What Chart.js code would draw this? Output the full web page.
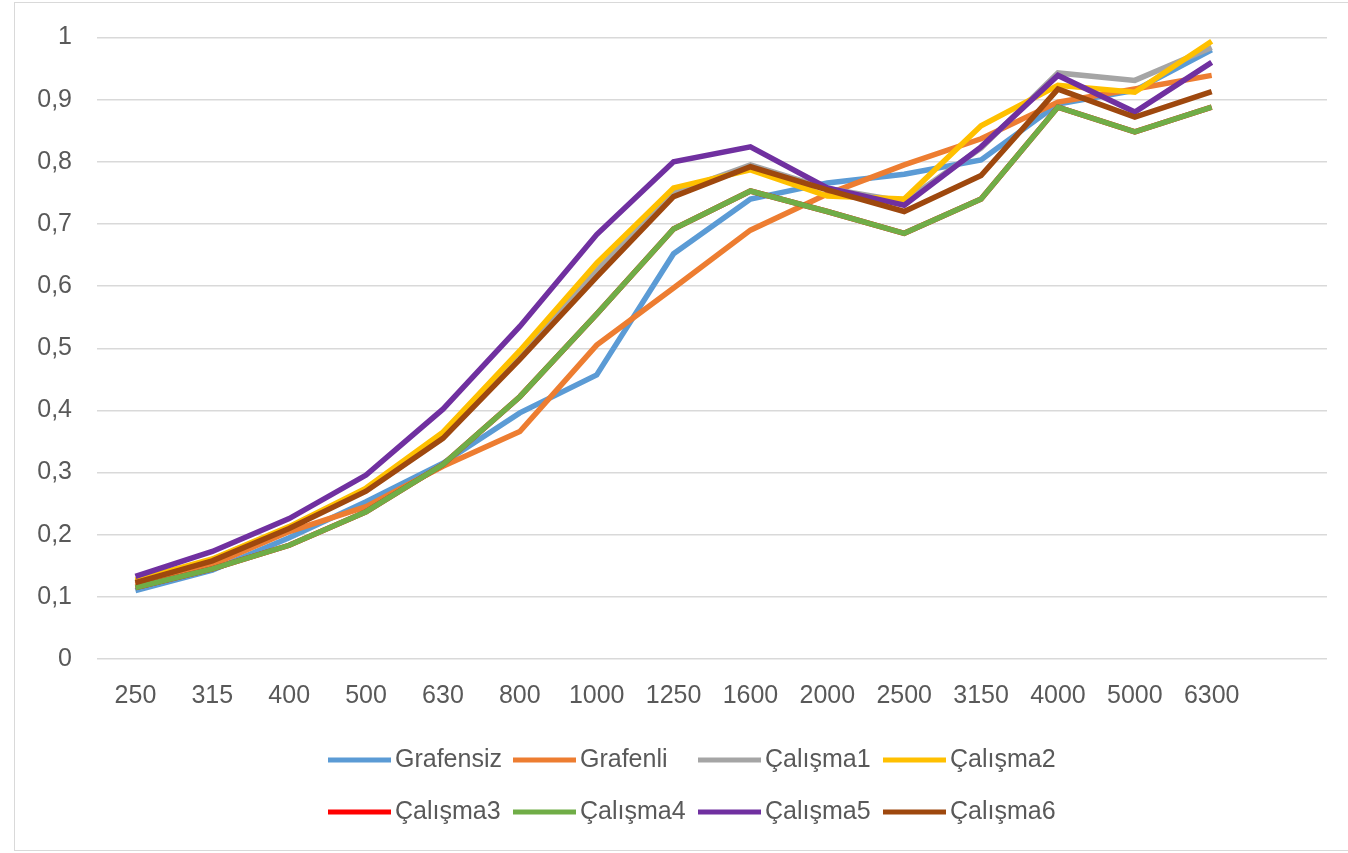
<!DOCTYPE html>
<html>
<head>
<meta charset="utf-8">
<script src="https://cdn.jsdelivr.net/npm/chart.js@4.4.0/dist/chart.umd.min.js"></script>
<style>
html, body { margin:0; padding:0; background:#fff; }
#wrap { position:relative; width:1348px; height:853px; overflow:hidden; }
#frame { position:absolute; left:14px; top:2px; width:1340px; height:847px; border:1px solid #d9d9d9; }
canvas { position:absolute; left:0; top:0; }
</style>
</head>
<body>
<div id="wrap">
<div id="frame"></div>
<canvas id="chart" width="1348" height="853"></canvas>
</div>
<script>
// frequency bands (last slot is empty, Excel left a blank row)
const frequencies = ['250','315','400','500','630','800','1000','1250','1600','2000','2500','3150','4000','5000','6300',''];

const grafensiz = [0.110,0.143,0.195,0.253,0.315,0.396,0.457,0.652,0.740,0.766,0.780,0.803,0.893,0.915,0.980];
const grafenli  = [0.120,0.152,0.205,0.245,0.310,0.366,0.505,0.597,0.690,0.748,0.795,0.837,0.896,0.917,0.939];
const calisma1  = [0.125,0.160,0.212,0.272,0.360,0.488,0.625,0.750,0.795,0.757,0.736,0.822,0.943,0.931,0.984];
const calisma2  = [0.127,0.161,0.213,0.275,0.365,0.496,0.637,0.758,0.787,0.745,0.740,0.858,0.923,0.912,0.994];
const calisma3  = [0.115,0.145,0.183,0.237,0.313,0.422,0.555,0.692,0.753,0.720,0.685,0.740,0.888,0.848,0.888];
const calisma4  = [0.115,0.145,0.183,0.237,0.313,0.422,0.555,0.692,0.753,0.720,0.685,0.740,0.888,0.848,0.888];
const calisma5  = [0.133,0.173,0.226,0.296,0.402,0.535,0.683,0.800,0.824,0.758,0.730,0.824,0.939,0.880,0.960];
const calisma6  = [0.123,0.158,0.210,0.270,0.355,0.482,0.615,0.744,0.792,0.755,0.720,0.778,0.917,0.872,0.913];

const yTicks = [0,0.1,0.2,0.3,0.4,0.5,0.6,0.7,0.8,0.9,1];

const seriesNames = ['Grafensiz','Grafenli','Çalışma1','Çalışma2','Çalışma3','Çalışma4','Çalışma5','Çalışma6'];
const seriesData = [grafensiz,grafenli,calisma1,calisma2,calisma3,calisma4,calisma5,calisma6];
const seriesColors = ['#5B9BD5','#ED7D31','#A5A5A5','#FFC000','#FF0000','#70AD47','#7030A0','#9E480E'];

const FONT = "'Liberation Sans', sans-serif";
const TEXT = '#595959';

const datasets = seriesNames.map((name, i) => ({
    label: name,
    data: seriesData[i],
    borderColor: seriesColors[i],
    backgroundColor: seriesColors[i],
    borderWidth: 5.5,
    pointRadius: 0,
    tension: 0,
    fill: false,
    // later series on top, like Excel
    order: seriesNames.length - i
}));

// legend laid out in a 4 column grid, two rows
const gridLegend = {
    id: 'gridLegend',
    afterDraw(chart) {
        const ctx = chart.ctx;
        const colW = 185, lineW = 63;
        const startX = 328;
        const rows = [760, 812];
        ctx.save();
        ctx.font = '25px ' + FONT;
        ctx.textBaseline = 'middle';
        ctx.fillStyle = TEXT;
        chart.data.datasets.forEach((ds, i) => {
            const x = startX + (i % 4) * colW;
            const y = rows[Math.floor(i / 4)];
            ctx.strokeStyle = ds.borderColor;
            ctx.lineWidth = 5;
            ctx.beginPath();
            ctx.moveTo(x, y);
            ctx.lineTo(x + lineW, y);
            ctx.stroke();
            ctx.fillText(ds.label, x + lineW + 4, y);
        });
        ctx.restore();
    }
};

new Chart(document.getElementById('chart'), {
    type: 'line',
    data: { labels: frequencies, datasets: datasets },
    options: {
        responsive: false,
        animation: false,
        layout: { padding: { left: 0, right: 21, top: 27, bottom: 144 } },
        plugins: {
            legend: { display: false },
            tooltip: { enabled: false }
        },
        scales: {
            x: {
                offset: true,
                grid: { display: false },
                border: { display: false },
                ticks: {
                    color: TEXT,
                    font: { family: FONT, size: 25 },
                    padding: 14,
                    maxRotation: 0,
                    autoSkip: false
                },
                afterFit(scale) { scale.height = 50; }
            },
            y: {
                min: 0,
                max: 1,
                grid: { color: '#d9d9d9', lineWidth: 1.5, drawTicks: false },
                border: { display: false },
                afterBuildTicks(scale) { scale.ticks = yTicks.map(v => ({ value: v })); },
                ticks: {
                    color: TEXT,
                    font: { family: FONT, size: 25, lineHeight: 1 },
                    padding: 25,
                    callback: v => String(Number(v.toFixed(1))).replace('.', ',')
                },
                afterFit(scale) { scale.width = 97; }
            }
        }
    },
    plugins: [gridLegend]
});
</script>
</body>
</html>
